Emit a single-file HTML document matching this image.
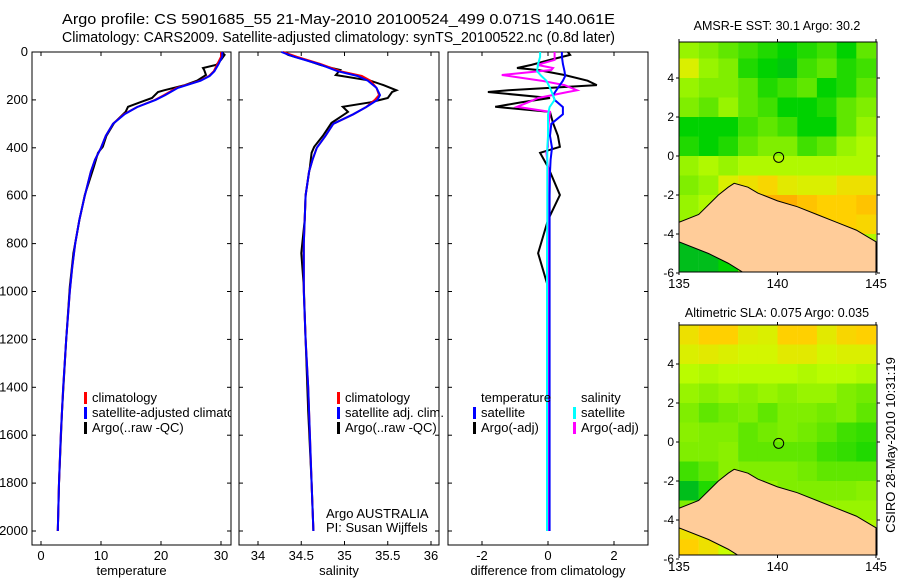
<!DOCTYPE html>
<html><head><meta charset="utf-8"><style>
body{margin:0;background:#fff;}
svg{display:block;font-family:"Liberation Sans",sans-serif;}
text{fill:#000;}
</style></head><body>
<svg id="s" width="900" height="580" viewBox="0 0 900 580">
<text x="62" y="24" font-size="15" textLength="553" lengthAdjust="spacingAndGlyphs">Argo profile: CS 5901685_55 21-May-2010 20100524_499 0.071S 140.061E</text>
<text x="62" y="42" font-size="15" textLength="553" lengthAdjust="spacingAndGlyphs">Climatology: CARS2009. Satellite-adjusted climatology: synTS_20100522.nc (0.8d later)</text>
<text x="777" y="30" font-size="12.5" text-anchor="middle">AMSR-E SST: 30.1 Argo: 30.2</text>
<text x="777" y="317" font-size="12.5" text-anchor="middle">Altimetric SLA: 0.075 Argo: 0.035</text>
<text transform="translate(895,445) rotate(-90)" font-size="13" text-anchor="middle">CSIRO 28-May-2010 10:31:19</text>
<defs><clipPath id="p1clip"><rect x="32" y="52" width="199" height="493"/></clipPath></defs>
<g id="g"></g>
</svg>
<script>
// ---- data ----
const depthClim=[0,20,50,80,100,120,150,180,200,230,260,300,350,400,450,500,600,700,800,900,1000,1200,1400,1600,1800,2000];
const tempClim=[30,30,29.4,28.8,28,26.5,22.6,20.5,19,16,13.8,12,10.8,10,9,8.3,7.3,6.4,5.7,5.2,4.8,4.2,3.7,3.3,3,2.8];
const tempSat=[30.2,30.2,29.6,28.9,28.1,26.6,22.8,20.7,19.1,16,13.9,12,10.8,10,9,8.3,7.3,6.4,5.7,5.2,4.8,4.2,3.7,3.3,3,2.8];
const depthArgo=[0,12,33,54,67,75,96,120,138,160,167,192,210,229,250,296,350,396,421,480,597,701,840,980,1200,1500,1800,2000];
const tempArgo=[30.1,30.6,30,29.2,27,27.2,27.5,26,24,20.5,19.5,18.5,16.5,14.5,14.1,12.2,10.9,10.3,9.5,8.8,7.3,6.4,5.4,4.8,4.2,3.5,3,2.8];
const salClim=[34.29,34.45,34.72,34.95,35.2,35.3,35.37,35.4,35.35,35.25,35.1,34.87,34.78,34.68,34.63,34.59,34.55,34.54,34.53,34.53,34.53,34.55,34.58,34.6,34.62,34.64];
const salSat=[34.27,34.42,34.7,34.92,35.15,35.27,35.37,35.41,35.38,35.25,35.1,34.87,34.78,34.68,34.63,34.59,34.55,34.54,34.53,34.53,34.53,34.55,34.58,34.6,34.62,34.64];
const salArgo=[34.29,34.35,34.55,34.72,34.85,34.95,34.9,35.3,35.45,35.6,35.55,35.5,35.3,34.98,35.04,34.85,34.75,34.65,34.62,34.6,34.55,34.54,34.5,34.53,34.55,34.58,34.62,34.64];
const dTempArgo=[0.6,0.67,0.06,-0.5,-0.94,-0.3,0.5,1.2,1.48,-1.2,-1.82,0.06,-0.8,-1.6,0.06,0.15,0.3,0.36,-0.24,0,0.36,0,-0.3,0,0.02,0.02,0,0];
const dSalArgo=[0.2,0.2,0.2,-0.33,0.15,0.1,-1.4,-0.2,0.5,0.88,0.6,-0.3,-0.6,-0.94,0.06,0.02,0,0,-0.05,0,0,0,0,0,0,0,0,0];
const dTempSat=[0.42,0.42,0.45,0.5,0.52,0.45,0.3,0.15,0.2,0.45,0.45,0.1,0.06,0.12,0.08,0.06,0.05,0.05,0.05,0.05,0.05,0.05,0.05,0.05,0.05,0.05];
const dSalSat=[-0.24,-0.24,-0.3,-0.33,-0.2,-0.05,0.06,0.15,0.2,0.05,0,0,0,-0.02,-0.02,-0.02,-0.02,-0.02,-0.03,-0.03,-0.03,-0.03,-0.03,-0.03,-0.03,-0.03];
const depthTicks=[0,200,400,600,800,1000,1200,1400,1600,1800,2000];
const tempTicks=[0,10,20,30];
const salTicks=[34,34.5,35,35.5,36];
const diffTicks=[-2,0,2];
const mapLats=[5.5,4.5,3.5,2.5,1.5,0.5,-0.5,-1.5,-2.5,-3.5,-4.5,-5.5];
const mapLons=[135.5,136.5,137.5,138.5,139.5,140.5,141.5,142.5,143.5,144.5];
const sstGrid=[
[.55,.5,.45,.4,.35,.3,.35,.4,.3,.45],
[.7,.55,.5,.35,.3,.25,.4,.45,.35,.4],
[.55,.5,.5,.45,.35,.4,.45,.3,.35,.45],
[.5,.45,.55,.45,.4,.3,.3,.35,.45,.5],
[.3,.3,.3,.4,.45,.4,.3,.3,.45,.55],
[.35,.3,.35,.45,.5,.5,.4,.45,.55,.6],
[.55,.6,.55,.6,.6,.6,.6,.6,.6,.6],
[.5,.55,.7,.75,.78,.72,.7,.7,.75,.75],
[.55,.6,.75,.8,.85,.85,.82,.8,.8,.82],
[.55,.55,.6,.7,.8,.8,.8,.8,.8,.78],
[.2,.2,.25,.5,.6,.6,.6,.6,.6,.6],
[.2,.2,.3,.5,.6,.6,.6,.6,.6,.6]];
const slaGrid=[
[.75,.8,.8,.72,.7,.8,.8,.72,.78,.8],
[.7,.72,.7,.68,.68,.72,.72,.68,.7,.7],
[.62,.6,.62,.62,.62,.62,.6,.62,.62,.6],
[.55,.52,.55,.52,.55,.52,.55,.55,.5,.48],
[.5,.45,.48,.5,.45,.5,.5,.48,.5,.45],
[.52,.5,.5,.45,.48,.5,.48,.45,.4,.38],
[.5,.5,.52,.45,.45,.45,.45,.4,.38,.35],
[.4,.45,.52,.5,.5,.5,.48,.45,.45,.45],
[.2,.35,.5,.55,.55,.5,.5,.5,.5,.52],
[.5,.5,.55,.55,.55,.55,.55,.55,.55,.55],
[.75,.72,.7,.6,.6,.6,.6,.6,.6,.6],
[.8,.75,.65,.6,.6,.6,.6,.6,.6,.6]];
const landLon=[135,136,136.5,137,137.5,137.8,138.5,139,140,141,142,143,144,145,145,138.3,137.5,136.5,135];
const landLat=[-3.4,-3.0,-2.5,-2.0,-1.6,-1.4,-1.6,-1.9,-2.3,-2.6,-3.0,-3.4,-3.8,-4.4,-6,-6,-5.5,-5,-4.4];
const mapLatTicks=[4,2,0,-2,-4,-6];
const mapLonTicks=[135,140,145];
const argoPos=[140.06,-0.07];

// ---- drawing ----
const NS='http://www.w3.org/2000/svg';const G=document.getElementById('g');
function mk(t,a,p){const e=document.createElementNS(NS,t);for(const k in a)e.setAttribute(k,a[k]);(p||G).appendChild(e);return e;}
const Y0=52,YB=545;const dy=d=>Y0+d*479/2000;
function panel(name,x0,x1,xs,ticks,fmt,title){
 const grp=mk('g',{});
 
 
 const r=mk('rect',{x:x0,y:Y0,width:x1-x0,height:YB-Y0,fill:'#fff',stroke:'#000','stroke-width':1},grp);
 
 
 ticks.forEach(v=>{const x=xs(v);
  mk('line',{x1:x,x2:x,y1:YB,y2:YB-4,stroke:'#000'},grp);mk('line',{x1:x,x2:x,y1:Y0,y2:Y0+4,stroke:'#000'},grp);
  const t=mk('text',{x:x,y:YB+15,'font-size':13,'text-anchor':'middle'},grp);t.textContent=fmt(v);
  
  });
 depthTicks.forEach(d=>{mk('line',{x1:x0,x2:x0+4,y1:dy(d),y2:dy(d),stroke:'#000'},grp);mk('line',{x1:x1,x2:x1-4,y1:dy(d),y2:dy(d),stroke:'#000'},grp);});
 const tt=mk('text',{x:(x0+x1)/2,y:575,'font-size':13,'text-anchor':'middle'},grp);tt.textContent=title;
 
 
 return grp;}
function line(grp,xs,vals,deps,col,w,nm){
 const pts=vals.map((v,i)=>xs(v).toFixed(1)+','+dy(deps[i]).toFixed(1)).join(' ');
 const p=mk('polyline',{points:pts,fill:'none',stroke:col,'stroke-width':w},grp);
 
 }
function legend(grp,x,y,items){items.forEach((it,i)=>{
 mk('rect',{x:x,y:y+i*15-10,width:3,height:12,fill:it[0]},grp);
 const t=mk('text',{x:x+8,y:y+i*15,'font-size':13},grp);t.textContent=it[1];
 
 });}
depthTicks.forEach(d=>{const t=mk('text',{x:28,y:dy(d)+4,'font-size':13,'text-anchor':'end'});t.textContent=d;
 
 });
const xT=v=>41+v*6;
const p1=panel('temperature-panel',32,231,xT,tempTicks,v=>v,'temperature');
line(p1,xT,tempArgo,depthArgo,'#000',2,'temp-argo-line');
line(p1,xT,tempClim,depthClim,'#f00',2,'temp-climatology-line');
line(p1,xT,tempSat,depthClim,'#00f',2,'temp-satellite-line');
const lg1=mk('g',{'clip-path':'url(#p1clip)'},p1);
legend(lg1,84,402,[['#f00','climatology'],['#00f','satellite-adjusted climatology'],['#000','Argo(..raw -QC)']]);
const xS=v=>258+(v-34)*86.5;
const p2=panel('salinity-panel',239,439,xS,salTicks,v=>v,'salinity');
line(p2,xS,salArgo,depthArgo,'#000',2,'sal-argo-line');
line(p2,xS,salClim,depthClim,'#f00',2,'sal-climatology-line');
line(p2,xS,salSat,depthClim,'#00f',2,'sal-satellite-line');
legend(p2,337,402,[['#f00','climatology'],['#00f','satellite adj. clim.'],['#000','Argo(..raw -QC)']]);
let t=mk('text',{x:326,y:518,'font-size':13},p2);t.textContent='Argo AUSTRALIA';
t=mk('text',{x:326,y:532,'font-size':13},p2);t.textContent='PI: Susan Wijffels';
const xD=v=>548+v*33;
const p3=panel('difference-panel',448,648,xD,diffTicks,v=>v,'difference from climatology');
line(p3,xD,dTempArgo,depthArgo,'#000',2,'diff-temp-argo-line');
line(p3,xD,dSalArgo,depthArgo,'#f0f',2,'diff-sal-argo-line');
line(p3,xD,dTempSat,depthClim,'#00f',2,'diff-temp-satellite-line');
line(p3,xD,dSalSat,depthClim,'#0ff',2,'diff-sal-satellite-line');
t=mk('text',{x:481,y:402,'font-size':13},p3);t.textContent='temperature';
t=mk('text',{x:581,y:402,'font-size':13},p3);t.textContent='salinity';
legend(p3,473,417,[['#00f','satellite'],['#000','Argo(-adj)']]);
legend(p3,573,417,[['#0ff','satellite'],['#f0f','Argo(-adj)']]);
function cmap(v){const st=[[0,[0,150,80]],[.3,[0,210,0]],[.5,[128,238,0]],[.65,[200,255,0]],[.8,[255,208,0]],[.9,[255,144,0]],[1,[192,0,0]]];
 for(let i=1;i<st.length;i++)if(v<=st[i][0]){const a=st[i-1],b=st[i],f=(v-a[0])/(b[0]-a[0]);return 'rgb('+a[1].map((c,k)=>Math.round(c+(b[1][k]-c)*f)).join(',')+')';}
 return 'rgb(192,0,0)';}
function map(name,top,grid,zero){
 const L=679,R=877,B=top+230;const mx=lo=>L+(lo-135)*19.7;const my=la=>zero-la*19.5;
 const grp=mk('g',{});
 
 
 const cp=mk('clipPath',{id:name+'-clip'},grp);mk('rect',{x:L,y:top,width:R-L,height:B-top},cp);
 const inner=mk('g',{'clip-path':'url(#'+name+'-clip)'},grp);
 grid.forEach((row,i)=>row.forEach((v,j)=>{
  const c=mk('rect',{x:mx(mapLons[j]-0.5),y:my(mapLats[i]+0.5),width:19.9,height:19.7,fill:cmap(v)},inner);
  
  }));
 const land=mk('polygon',{points:landLon.map((lo,i)=>mx(lo)+','+my(landLat[i])).join(' '),fill:'#fc9',stroke:'#000','stroke-width':1},inner);
 
 
 const ci=mk('circle',{cx:mx(argoPos[0]),cy:my(argoPos[1]),r:5,fill:'none',stroke:'#000'},grp);
 
 
 mk('rect',{x:L,y:top,width:R-L,height:B-top,fill:'none',stroke:'#000'},grp);
 mapLatTicks.forEach(la=>{const y=my(la);mk('line',{x1:L-3,x2:L,y1:y,y2:y,stroke:'#000'},grp);mk('line',{x1:R,x2:R+3,y1:y,y2:y,stroke:'#000'},grp);
  const tx=mk('text',{x:L-5,y:y+4,'font-size':12,'text-anchor':'end'},grp);tx.textContent=la;
  
  });
 mapLonTicks.forEach(lo=>{const x=mx(lo);mk('line',{x1:x,x2:x,y1:B,y2:B+3,stroke:'#000'},grp);mk('line',{x1:x,x2:x,y1:top-3,y2:top,stroke:'#000'},grp);
  const tx=mk('text',{x:x,y:B+16,'font-size':13,'text-anchor':'middle'},grp);tx.textContent=lo;
  
  });}
map('sst-map',42,sstGrid,156);
map('sla-map',325,slaGrid,442);
</script>
</body></html>
